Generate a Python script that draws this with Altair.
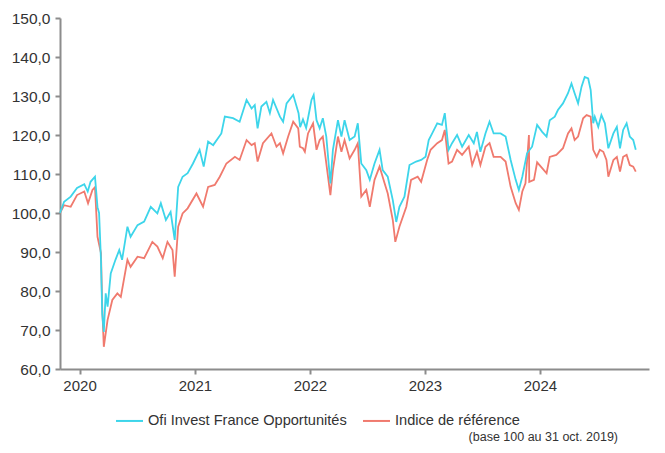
import altair as alt
import pandas as pd

FUND = "Ofi Invest France Opportunités"
INDEX = "Indice de référence"
NOTE = "(base 100 au 31 oct. 2019)"

fund_dates = [
    "2019-10-31", "2019-11-13", "2019-12-04", "2019-12-24", "2020-01-16", "2020-01-27",
    "2020-02-05", "2020-02-19", "2020-02-27", "2020-03-03", "2020-03-09", "2020-03-13",
    "2020-03-18", "2020-03-24", "2020-03-30", "2020-04-09", "2020-04-24", "2020-05-06",
    "2020-05-15", "2020-06-01", "2020-06-11", "2020-07-03", "2020-07-24", "2020-08-14",
    "2020-09-04", "2020-09-15", "2020-10-01", "2020-10-16", "2020-10-29", "2020-11-09",
    "2020-11-23", "2020-12-09", "2020-12-26", "2021-01-16", "2021-01-29", "2021-02-12",
    "2021-02-28", "2021-03-26", "2021-04-06", "2021-05-02", "2021-05-23", "2021-06-14",
    "2021-06-30", "2021-07-10", "2021-07-19", "2021-07-31", "2021-08-16", "2021-08-27",
    "2021-09-06", "2021-09-28", "2021-10-08", "2021-10-19", "2021-11-09", "2021-11-26",
    "2021-12-01", "2021-12-10", "2021-12-20", "2021-12-31", "2022-01-06", "2022-01-13",
    "2022-01-22", "2022-02-01", "2022-02-11", "2022-02-22", "2022-03-07", "2022-03-15",
    "2022-03-31", "2022-04-11", "2022-04-21", "2022-05-07", "2022-05-23", "2022-06-02",
    "2022-06-13", "2022-06-29", "2022-07-10", "2022-07-25", "2022-08-10", "2022-08-20",
    "2022-09-05", "2022-09-21", "2022-10-02", "2022-10-12", "2022-10-28", "2022-11-13",
    "2022-12-04", "2022-12-20", "2023-01-03", "2023-01-13", "2023-01-24", "2023-02-09",
    "2023-02-24", "2023-03-05", "2023-03-17", "2023-03-28", "2023-04-13", "2023-04-29",
    "2023-05-20", "2023-06-05", "2023-06-15", "2023-06-26", "2023-07-12", "2023-07-25",
    "2023-08-07", "2023-08-29", "2023-09-14", "2023-09-30", "2023-10-16", "2023-10-26",
    "2023-11-06", "2023-11-21", "2023-12-07", "2023-12-23", "2024-01-08", "2024-01-22",
    "2024-02-01", "2024-02-17", "2024-02-27", "2024-03-14", "2024-03-30", "2024-04-10",
    "2024-04-20", "2024-05-01", "2024-05-12", "2024-05-22", "2024-06-02", "2024-06-10",
    "2024-06-18", "2024-06-23", "2024-07-04", "2024-07-14", "2024-07-25", "2024-08-05",
    "2024-08-21", "2024-09-01", "2024-09-11", "2024-09-21", "2024-10-02", "2024-10-12",
    "2024-10-23", "2024-10-31",
]
fund_values = [
    100.0, 102.9, 104.2, 106.4, 107.4, 105.5,
    108.0, 109.3, 101.5, 100.0, 88.0, 74.0,
    69.5, 79.4, 76.0, 84.5, 88.0, 90.5,
    88.0, 96.5, 93.9, 96.9, 97.8, 101.6,
    99.9, 102.5, 98.2, 100.3, 93.1, 106.7,
    109.3, 110.2, 112.7, 116.2, 111.9, 118.3,
    117.4, 120.4, 124.7, 124.3, 123.4, 129.0,
    126.8, 127.7, 121.7, 127.3, 128.5, 125.6,
    129.0, 124.7, 123.4, 128.1, 130.3, 125.6,
    122.0, 124.0, 121.8, 126.4, 129.0, 130.3,
    123.8, 121.7, 124.3, 119.6, 107.6, 116.2,
    123.8, 119.6, 123.8, 118.7, 119.6, 123.0,
    112.7, 111.0, 108.5, 112.7, 116.2, 111.0,
    109.3, 103.3, 97.7, 101.6, 104.2, 112.3,
    113.2, 113.6, 114.4, 118.7, 120.4, 123.0,
    122.6, 125.6, 116.2, 117.9, 120.0, 117.0,
    120.0, 117.9, 120.8, 115.7, 120.4, 123.4,
    120.4, 120.4, 119.6, 113.6, 108.5, 105.9,
    109.3, 115.3, 117.0, 122.6, 120.8, 119.6,
    123.8, 124.7, 126.4, 128.1, 130.7, 133.2,
    130.7, 128.1, 132.4, 134.9, 134.5, 131.5,
    123.0, 124.7, 122.1, 125.1, 123.0, 116.6,
    120.4, 122.1, 116.6, 121.3, 123.0, 119.6,
    118.7, 116.2,
]

index_dates = [
    "2019-10-31", "2019-11-13", "2019-12-04", "2019-12-24", "2020-01-16", "2020-01-28",
    "2020-02-11", "2020-02-19", "2020-02-27", "2020-03-09", "2020-03-13", "2020-03-18",
    "2020-03-30", "2020-04-14", "2020-04-30", "2020-05-11", "2020-06-01", "2020-06-11",
    "2020-07-03", "2020-07-24", "2020-08-19", "2020-09-04", "2020-09-21", "2020-10-06",
    "2020-10-22", "2020-10-29", "2020-11-09", "2020-11-23", "2020-12-09", "2021-01-06",
    "2021-01-27", "2021-02-12", "2021-03-05", "2021-03-21", "2021-04-11", "2021-05-08",
    "2021-05-23", "2021-06-14", "2021-06-30", "2021-07-10", "2021-07-19", "2021-08-05",
    "2021-09-01", "2021-09-17", "2021-09-28", "2021-10-08", "2021-10-24", "2021-11-09",
    "2021-11-25", "2021-11-30", "2021-12-10", "2021-12-16", "2021-12-26", "2022-01-11",
    "2022-01-22", "2022-02-01", "2022-02-11", "2022-02-22", "2022-03-07", "2022-03-15",
    "2022-03-31", "2022-04-11", "2022-04-21", "2022-05-07", "2022-05-23", "2022-06-02",
    "2022-06-13", "2022-06-29", "2022-07-10", "2022-07-25", "2022-08-10", "2022-08-26",
    "2022-09-05", "2022-09-21", "2022-09-29", "2022-10-12", "2022-11-03", "2022-11-18",
    "2022-12-09", "2022-12-20", "2023-01-08", "2023-01-19", "2023-02-09", "2023-02-24",
    "2023-03-05", "2023-03-17", "2023-03-28", "2023-04-13", "2023-04-29", "2023-05-20",
    "2023-05-31", "2023-06-15", "2023-06-26", "2023-07-12", "2023-07-25", "2023-08-07",
    "2023-08-29", "2023-09-14", "2023-09-30", "2023-10-16", "2023-10-26", "2023-11-06",
    "2023-11-16", "2023-11-27", "2023-11-28", "2023-12-13", "2023-12-23", "2024-01-08",
    "2024-01-22", "2024-02-01", "2024-02-22", "2024-03-14", "2024-03-30", "2024-04-10",
    "2024-04-20", "2024-05-01", "2024-05-17", "2024-05-28", "2024-06-10", "2024-06-18",
    "2024-06-29", "2024-07-09", "2024-07-20", "2024-07-30", "2024-08-05", "2024-08-21",
    "2024-09-01", "2024-09-11", "2024-09-21", "2024-10-02", "2024-10-12", "2024-10-23",
    "2024-10-31",
]
index_values = [
    100.0, 102.0, 101.6, 104.6, 105.5, 102.5,
    105.9, 106.6, 93.9, 89.7, 76.0, 65.7,
    72.6, 77.7, 79.4, 78.5, 88.0, 86.2,
    88.8, 88.4, 92.6, 91.4, 88.4, 92.6,
    90.5, 83.7, 96.5, 99.9, 101.2, 105.0,
    101.6, 106.7, 107.2, 109.3, 112.7, 114.4,
    113.6, 118.7, 117.4, 117.9, 113.2, 117.9,
    120.4, 117.0, 117.9, 115.3, 119.6, 123.4,
    121.7, 117.0, 116.6, 115.7, 120.4, 123.0,
    116.2, 118.7, 119.6, 112.7, 104.6, 111.0,
    119.6, 115.7, 118.7, 114.0, 116.2, 117.9,
    104.2, 105.9, 101.6, 108.5, 111.9, 107.6,
    105.0, 98.2, 92.6, 96.5, 101.6, 108.5,
    109.3, 108.0, 113.6, 116.2, 117.9, 118.7,
    121.3, 112.7, 113.2, 116.2, 114.9, 117.0,
    112.3, 115.7, 112.3, 117.0, 117.9, 114.4,
    114.4, 113.2, 106.7, 102.5, 100.8, 105.5,
    107.6, 120.0, 108.0, 108.5, 113.0, 111.5,
    110.2, 114.4, 114.9, 116.6, 120.4, 121.7,
    118.7, 119.6, 124.3, 125.1, 124.7, 116.2,
    114.4, 116.2, 115.7, 113.6, 109.3, 113.6,
    114.4, 110.6, 114.4, 114.9, 112.3, 111.9,
    110.6,
]

y_ticks = [60, 70, 80, 90, 100, 110, 120, 130, 140, 150]
colors = ["#3dd5ea", "#f07a6e"]

df = pd.concat([
    pd.DataFrame({"date": pd.to_datetime(index_dates), "value": index_values, "series": INDEX}),
    pd.DataFrame({"date": pd.to_datetime(fund_dates), "value": fund_values, "series": FUND}),
], ignore_index=True)

x_enc = alt.X(
    "date:T",
    scale=alt.Scale(domain=[alt.DateTime(year=2019, month=10, date=31),
                            alt.DateTime(year=2024, month=12, date=12)]),
    axis=alt.Axis(title=None, format="%Y", tickCount="year", labelAlign="center",
                  labelPadding=4),
)
y_enc = alt.Y(
    "value:Q",
    scale=alt.Scale(domain=[60, 150], nice=False, zero=False),
    axis=alt.Axis(title=None, values=y_ticks,
                  labelExpr="replace(format(datum.value, '.1f'), '.', ',')",
                  labelPadding=5, labelFontSize=15.5),
)
color_enc = alt.Color(
    "series:N",
    scale=alt.Scale(domain=[FUND, INDEX], range=colors),
    legend=alt.Legend(title=None, orient="none", legendX=55, legendY=388,
                      direction="horizontal", symbolType="stroke", symbolSize=729,
                      symbolStrokeWidth=2, labelFontSize=14.6, labelOffset=4,
                      columnPadding=12, labelLimit=400, labelColor="#333333",
                      labelFont="Liberation Sans", padding=0),
)

base = alt.Chart(df).mark_line(strokeWidth=1.8).encode(x=x_enc, y=y_enc, color=color_enc)
red_line = base.transform_filter(alt.datum.series == INDEX)
blue_line = base.transform_filter(alt.datum.series == FUND)

note = alt.Chart(pd.DataFrame({"note": [NOTE]})).mark_text(
    align="right", baseline="alphabetic", fontSize=12.5, font="Liberation Sans", color="#333333"
).encode(x=alt.value(558), y=alt.value(423), text="note:N")

chart = alt.layer(red_line, blue_line, note).properties(
    width=589, height=351, autosize="none",
    padding={"left": 52, "top": 10, "right": 6, "bottom": 76},
).configure_view(strokeOpacity=0).configure_axis(
    grid=False, domainColor="#8c8c8c", tickColor="#8c8c8c", domainWidth=2, tickWidth=2,
    tickSize=5, labelFont="Liberation Sans", labelFontSize=15, labelColor="#333333",
)

chart.save("out.html", embed_options={"renderer": "svg", "actions": False})
